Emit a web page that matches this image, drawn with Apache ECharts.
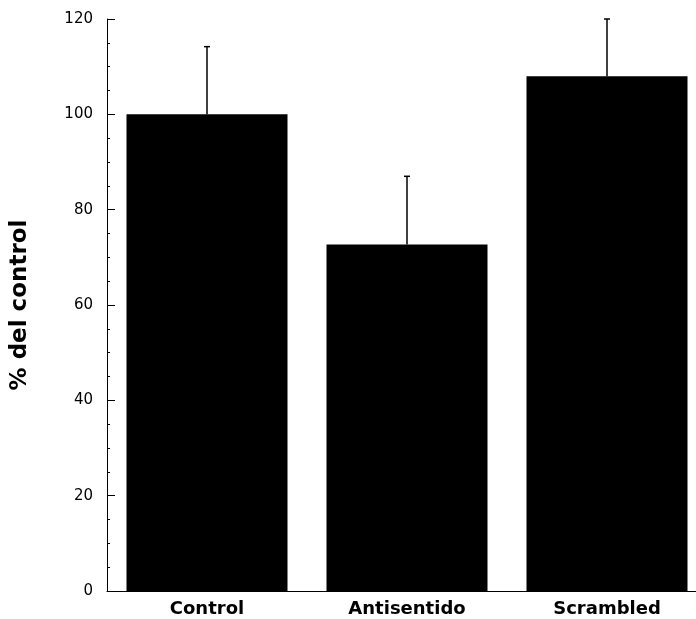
<!DOCTYPE html>
<html>
<head>
<meta charset="utf-8">
<script src="https://cdn.jsdelivr.net/npm/echarts@6/dist/echarts.min.js"></script>
<style>html,body{margin:0;padding:0;background:#fff;overflow:hidden;width:696px;height:619px;}#c{width:712px;height:619px;}</style>
</head>
<body>
<div id="c"></div>
<script>
var categories = ['Control', 'Antisentido', 'Scrambled'];
var means = [100, 72.7, 108];
var errorTops = [114.2, 87, 120];
var yTicks = [0, 20, 40, 60, 80, 100, 120];

var chart = echarts.init(document.getElementById('c'), null, {renderer: 'canvas'});
chart.setOption({
  animation: false,
  backgroundColor: '#fff',
  grid: {left: 107, right: 5, top: 19, bottom: 28, containLabel: false},
  xAxis: {
    type: 'category',
    data: categories,
    axisLine: {lineStyle: {color: '#000', width: 1}},
    axisTick: {show: false},
    axisLabel: {color: '#000', fontFamily: 'DejaVu Sans', fontWeight: 'bold', fontSize: 18, margin: 9}
  },
  yAxis: {
    type: 'value',
    min: yTicks[0],
    max: yTicks[yTicks.length - 1],
    interval: 20,
    name: '% del control',
    nameLocation: 'middle',
    nameGap: 75,
    nameRotate: 90,
    nameTextStyle: {color: '#000', fontFamily: 'DejaVu Sans', fontWeight: 'bold', fontSize: 23},
    axisLine: {show: true, lineStyle: {color: '#000', width: 1}},
    axisTick: {show: true, inside: true, length: 8, lineStyle: {color: '#000'}},
    minorTick: {show: true, splitNumber: 4, length: 3, lineStyle: {color: '#000'}},
    splitLine: {show: false},
    axisLabel: {color: '#000', fontFamily: 'DejaVu Sans', fontSize: 15, margin: 14}
  },
  series: [
    {
      type: 'bar',
      data: means,
      barWidth: '80.5%',
      itemStyle: {color: '#000'},
      z: 2
    },
    {
      type: 'custom',
      data: categories.map(function (c, i) { return [i, means[i], errorTops[i]]; }),
      renderItem: function (params, api) {
        var x = api.value(0);
        var p0 = api.coord([x, api.value(1)]);
        var p1 = api.coord([x, api.value(2)]);
        var cap = 3;
        return {
          type: 'group',
          children: [
            {type: 'line', shape: {x1: p0[0], y1: p0[1], x2: p1[0], y2: p1[1]}, style: {stroke: '#000', lineWidth: 1.5}},
            {type: 'line', shape: {x1: p1[0] - cap, y1: p1[1], x2: p1[0] + cap, y2: p1[1]}, style: {stroke: '#000', lineWidth: 1.5}}
          ]
        };
      },
      z: 3
    }
  ]
});
</script>
</body>
</html>
